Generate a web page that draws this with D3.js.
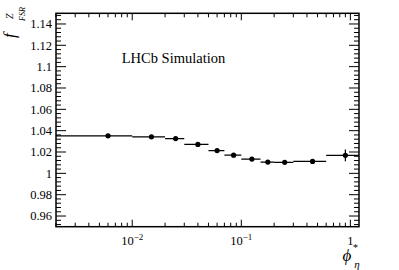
<!DOCTYPE html>
<html><head><meta charset="utf-8">
<script src="https://cdn.jsdelivr.net/npm/d3@7"></script>
<style>body{margin:0;background:#fff}svg{display:block}text{font-family:"Liberation Serif","Times New Roman",serif;fill:#000}</style>
</head><body>
<script>
const binLow  = [0.002, 0.01, 0.02, 0.03, 0.05, 0.07, 0.10, 0.15, 0.20, 0.30, 0.60];
const binHigh = [0.01, 0.02, 0.03, 0.05, 0.07, 0.10, 0.15, 0.20, 0.30, 0.60, 1.20];
const binCenter = [0.006, 0.015, 0.025, 0.04, 0.06, 0.085, 0.125, 0.175, 0.25, 0.45, 0.9];
const values = [1.0352, 1.0342, 1.0326, 1.0271, 1.0213, 1.0170, 1.0134, 1.0106, 1.0103, 1.0112, 1.0169];
const errors = [0.0004, 0.0004, 0.0005, 0.0006, 0.0007, 0.0008, 0.0009, 0.0010, 0.0010, 0.0015, 0.0055];
const yTicks = [0.96, 0.98, 1, 1.02, 1.04, 1.06, 1.08, 1.1, 1.12, 1.14];
const xMajor = [0.01, 0.1, 1];
const xLabels = [["10","\u22122"],["10","\u22121"],["1",""]];

const W = 399, H = 270;
const L = 56, R = 359, T = 13.3, B = 226.7;
const svg = d3.select("body").append("svg").attr("width", W).attr("height", H)
  .attr("font-family", "Liberation Serif, serif");
const x = d3.scaleLog().domain([0.002, 1.2]).range([L, R]);
const y = d3.scaleLinear().domain([0.95, 1.15]).range([B, T]);

const yMinor = d3.range(0.952, 1.1499, 0.004);
const tk = svg.append("g").attr("stroke", "#000").attr("stroke-width", 1);
yMinor.forEach(v => {
  const isMaj = yTicks.some(t => Math.abs(t - v) < 1e-6);
  const len = isMaj ? 10 : 5;
  tk.append("line").attr("x1", L).attr("x2", L + len).attr("y1", y(v)).attr("y2", y(v));
  tk.append("line").attr("x1", R).attr("x2", R - len).attr("y1", y(v)).attr("y2", y(v));
});
const xAll = [];
for (let e = -3; e <= 0; e++) for (let m = 1; m <= 9; m++) {
  const v = m * Math.pow(10, e);
  if (v >= 0.002 && v <= 1.2) xAll.push([v, m === 1]);
}
xAll.forEach(([v, maj]) => {
  const len = maj ? 7 : 4;
  tk.append("line").attr("x1", x(v)).attr("x2", x(v)).attr("y1", B).attr("y2", B - len);
  tk.append("line").attr("x1", x(v)).attr("x2", x(v)).attr("y1", T).attr("y2", T + len);
});

svg.append("rect").attr("x", L).attr("y", T).attr("width", R - L).attr("height", B - T)
  .attr("fill", "none").attr("stroke", "#000").attr("stroke-width", 1.5);

svg.append("g").selectAll("text").data(yTicks).join("text")
  .attr("x", 52).attr("y", d => y(d)).attr("dy", "0.34em")
  .attr("text-anchor", "end").attr("font-size", 12.5)
  .text(d => d3.format("")(+d.toFixed(2)));

xMajor.forEach((v, i) => {
  const t = svg.append("text").attr("x", x(v)).attr("y", 245)
    .attr("text-anchor", "middle").attr("font-size", 12.5);
  t.append("tspan").text(xLabels[i][0]);
  if (xLabels[i][1]) t.append("tspan").attr("font-size", 9).attr("dy", -5).text(xLabels[i][1]);
});

const xt = svg.append("g");
xt.append("text").attr("x", 347).attr("y", 261).attr("text-anchor", "middle")
  .attr("font-size", 17).attr("font-style", "italic").text("\u03d5");
xt.append("text").attr("x", 355.5).attr("y", 251).attr("text-anchor", "middle")
  .attr("font-size", 10).text("*");
xt.append("text").attr("x", 357).attr("y", 268).attr("text-anchor", "middle")
  .attr("font-size", 11).attr("font-style", "italic").text("\u03b7");

const yt = svg.append("g").attr("transform", "translate(15,0) rotate(-90)");
yt.append("text").attr("x", -38).attr("y", 0).attr("font-size", 17)
  .attr("font-style", "italic").text("f");
yt.append("text").attr("x", -19).attr("y", -2.5).attr("font-size", 10)
  .attr("font-style", "italic").text("Z");
yt.append("text").attr("x", -21).attr("y", 10).attr("font-size", 8)
  .attr("font-style", "italic").text("FSR");

svg.append("text").attr("x", 121.7).attr("y", 63).attr("font-size", 14.5).text("LHCb Simulation");

svg.append("clipPath").attr("id", "clip").append("rect")
  .attr("x", L).attr("y", T).attr("width", R - L).attr("height", B - T);
const dg = svg.append("g").attr("clip-path", "url(#clip)").attr("stroke", "#000").attr("stroke-width", 1.2);
values.forEach((v, i) => {
  dg.append("line").attr("x1", x(binLow[i])).attr("x2", x(binHigh[i])).attr("y1", y(v)).attr("y2", y(v));
  dg.append("line").attr("x1", x(binCenter[i])).attr("x2", x(binCenter[i]))
    .attr("y1", y(v - errors[i])).attr("y2", y(v + errors[i]));
});
svg.append("g").selectAll("circle").data(values).join("circle")
  .attr("cx", (d, i) => x(binCenter[i])).attr("cy", d => y(d)).attr("r", 2.6).attr("fill", "#000");
</script>
</body></html>
